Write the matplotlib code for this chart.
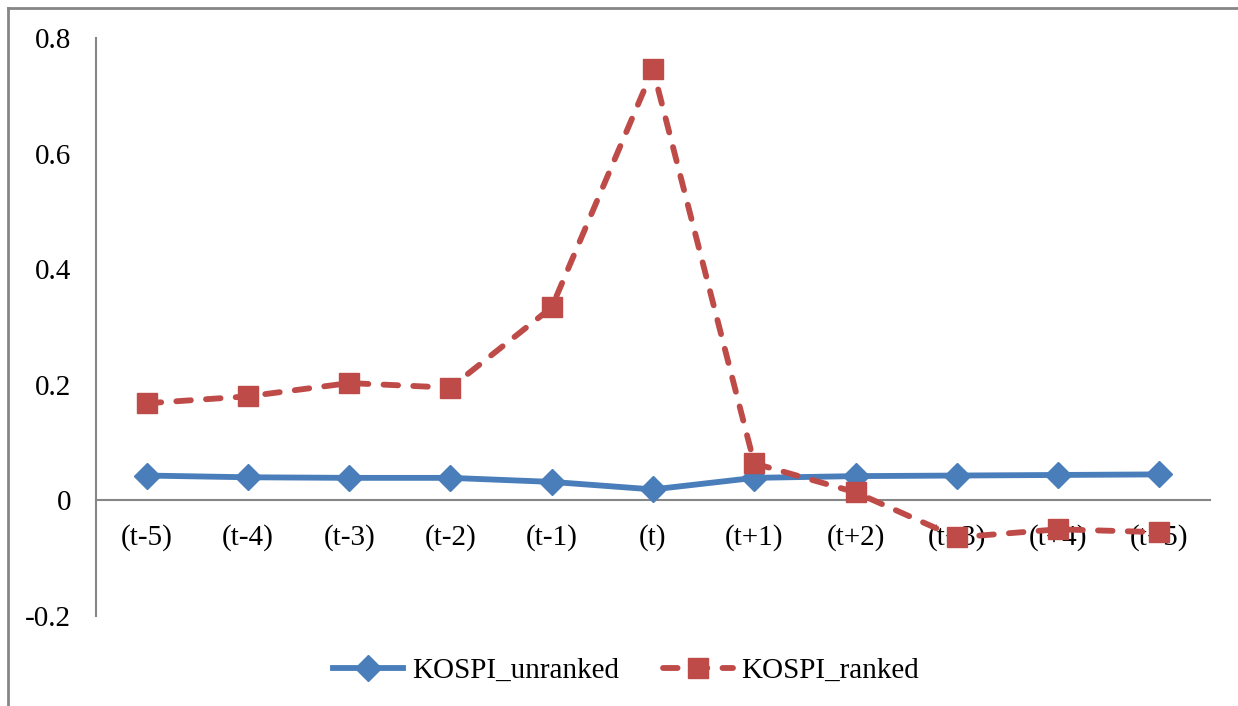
import numpy as np
import matplotlib.pyplot as plt
import matplotlib
from matplotlib.lines import Line2D

matplotlib.rcParams['font.family'] = ['Liberation Serif', 'DejaVu Serif']
matplotlib.rcParams['font.size'] = 21

# Event window and average coefficients
periods = ["(t-5)", "(t-4)", "(t-3)", "(t-2)", "(t-1)", "(t)",
           "(t+1)", "(t+2)", "(t+3)", "(t+4)", "(t+5)"]
kospi_unranked = [0.043, 0.040, 0.039, 0.039, 0.032, 0.019,
                  0.039, 0.042, 0.043, 0.044, 0.045]
kospi_ranked = [0.168, 0.180, 0.203, 0.195, 0.334, 0.746,
                0.064, 0.014, -0.064, -0.050, -0.055]

fig = plt.figure(figsize=(12.38, 7.06), dpi=100)
ax = fig.add_axes([96/1238, 1 - 616/706, (1210 - 96)/1238, (616 - 38)/706])
ax.set_axisbelow(True)

x = np.arange(len(periods))
ax.plot(x, kospi_unranked, color="#4a7ebb", lw=4.2, marker="D", ms=13,
        label="KOSPI_unranked", zorder=3)
ax.plot(x, kospi_ranked, color="#be4b48", lw=4.2, ls=(0, (2.5, 2.6)),
        dash_capstyle="round", marker="s", ms=14, label="KOSPI_ranked", zorder=4)

ax.set_xlim(-0.5, len(periods) - 0.5)
ax.set_ylim(-0.2, 0.8)
ax.set_yticks([-0.2, 0, 0.2, 0.4, 0.6, 0.8])
ax.set_yticklabels(["-0.2", "0", "0.2", "0.4", "0.6", "0.8"])
ax.set_xticks(x)
ax.set_xticklabels(periods)
ax.tick_params(axis="x", length=0, pad=17)
ax.tick_params(axis="y", length=0, pad=18)

for s in ["top", "right"]:
    ax.spines[s].set_visible(False)
ax.spines["bottom"].set_position(("data", 0))
ax.spines["bottom"].set_color("#868686")
ax.spines["left"].set_color("#868686")
ax.spines["bottom"].set_linewidth(1.5)
ax.spines["left"].set_linewidth(1.5)

ax.legend(loc="center", bbox_to_anchor=(626/1238, 1 - 671/706), bbox_transform=fig.transFigure,
          ncol=2, frameon=False, handlelength=2.4, columnspacing=1.5, handletextpad=0.3,
          borderpad=0)

# chart-area border
bx = 7.5 / 1238
by = 1 - 7.5 / 706
fig.add_artist(Line2D([bx, bx], [0, by], transform=fig.transFigure, color="#868686", lw=2))
fig.add_artist(Line2D([bx, 1], [by, by], transform=fig.transFigure, color="#868686", lw=2))

fig.savefig("out.png", dpi=100)
